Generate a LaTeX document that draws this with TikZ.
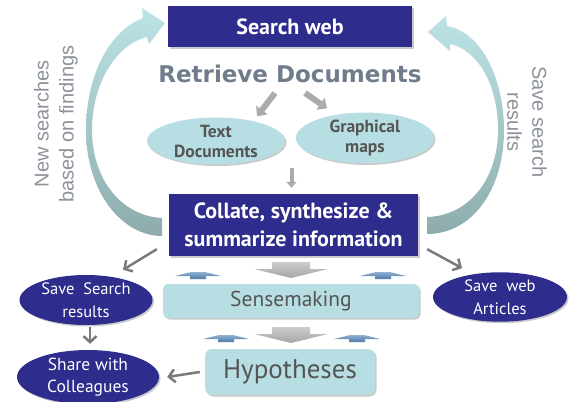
\documentclass[tikz,border=0pt]{standalone}
\usepackage{fontspec}
\setmainfont{PT Sans}
\newfontfamily\arialf{Liberation Sans}
\newfontfamily\retf{DejaVu Sans}
\usetikzlibrary{arrows.meta,shapes.geometric,shadows,calc}
\definecolor{navy}{HTML}{2E2C8C}
\definecolor{lcyan}{HTML}{B7DEE2}
\definecolor{tgray}{HTML}{555555}
\definecolor{rgray}{HTML}{707C8B}
\definecolor{sgray}{HTML}{8C929B}
\definecolor{arrgray}{HTML}{ABABAB}
\definecolor{dgray}{HTML}{7A7A7A}
\definecolor{bblue}{HTML}{4F7BA8}
\definecolor{bblueL}{HTML}{8FB0D0}
\definecolor{tealA}{HTML}{BCE3E6}
\definecolor{tealB}{HTML}{8EACAC}
\tikzset{
  myshadow/.style={drop shadow={shadow xshift=1.5pt,shadow yshift=-1.5pt,opacity=.35,fill=black!60}},
  navybox/.style={fill=navy,text=white,font=\bfseries\fontsize{22}{28}\selectfont,align=center,inner sep=0pt,myshadow},
  cyanbox/.style={fill=lcyan,text=tgray,align=center,inner sep=0pt,myshadow},
  cyanell/.style={ellipse,fill=lcyan,text=tgray,font=\bfseries\fontsize{17.5}{20}\selectfont,align=center,inner sep=0pt,myshadow},
  navyell/.style={ellipse,fill=navy,text=white,font=\fontsize{16.5}{23}\selectfont,align=center,inner sep=0pt,myshadow},
  blockarr/.style={draw=arrgray,line width=6pt,-{Triangle[width=14pt,length=8pt]}},
  smallarr/.style={draw=arrgray,line width=4pt,-{Triangle[width=10pt,length=6pt]}},
  barbarr/.style={draw=dgray,line width=2.5pt,-{Straight Barb[length=6pt,width=13pt]}},
  sidetext/.style={text=sgray,font=\arialf\fontsize{20}{25}\selectfont,align=center,inner sep=0pt},
  bigarrow/.style={top color=tealA,bottom color=tealB},
}
\newcommand\bluearr[2]{%
  \shade[top color=bblueL,bottom color=bblue] (#1-23,#2+4) -- (#1-7,#2) -- (#1+7,#2) -- (#1+23,#2+4) -- (#1+8,#2+4) -- (#1+8,#2+7) -- (#1-8,#2+7) -- (#1-8,#2+4) -- cycle;}
\newcommand\grayfat[2]{%
  \shade[top color=black!20,bottom color=black!35] (#1-19,#2) -- (#1+19,#2) -- (#1+19,#2+7) -- (#1+37,#2+7) -- (#1,#2+16) -- (#1-37,#2+7) -- (#1-19,#2+7) -- cycle;}
\begin{document}
\begin{tikzpicture}[x=1pt,y=-1pt]
\useasboundingbox (0,0) rectangle (571,402);
% big curved arrows
\shade[bigarrow] (162,236) .. controls (122,236) and (86,192) .. (86,130) .. controls (86,75) and (110,30) .. (143,18) -- (142,8) -- (165,23) -- (149,44) -- (147,37) .. controls (115,45) and (92,85) .. (92,130) .. controls (92,180) and (122,216) .. (162,218) -- cycle;
\shade[bigarrow] (427,234) .. controls (472,234) and (504,190) .. (504,130) .. controls (504,80) and (482,32) .. (447,26) -- (446,16) -- (428,32) -- (450,51) -- (450,44) .. controls (478,50) and (498,85) .. (498,130) .. controls (498,180) and (468,216) .. (427,217) -- cycle;
% side texts
\node[sidetext,rotate=90] (lt) at (56,124) {New searches\\based on findings};
\node[sidetext,rotate=-90] (rt) at (527,122) {Save search\\results};
% main boxes
\node[navybox,minimum width=244pt,minimum height=41pt] (sw) at (290,26.5) {Search web};
\node[text=rgray,font=\retf\bfseries\fontsize{23}{28}\selectfont,inner sep=0pt] (ret) at (290,74) {Retrieve Documents};
\node[cyanell,minimum width=138pt,minimum height=47pt] (td) at (216,141) {Text\\Documents};
\node[cyanell,minimum width=138pt,minimum height=48pt] (gm) at (365,138) {Graphical\\maps};
\node[navybox,minimum width=249pt,minimum height=62pt] (col) at (293.5,225) {Collate, synthesize \&\\summarize information};
\node[cyanbox,rounded corners=5pt,minimum width=256pt,minimum height=34pt,font=\fontsize{21.5}{25}\selectfont] (sm) at (291,301) {Sensemaking};
\node[cyanbox,rounded corners=7pt,minimum width=170pt,minimum height=46pt,font=\fontsize{27}{30}\selectfont] (hy) at (290,372) {Hypotheses};
\node[navyell,minimum width=133pt,minimum height=50pt] (ssr) at (86,300) {Save\ \ Search\\results};
\node[navyell,minimum width=134pt,minimum height=47pt] (swa) at (500,297) {Save\ \ web\\Articles};
\node[navyell,minimum width=142pt,minimum height=48pt,font=\fontsize{17.5}{22}\selectfont] (sc) at (88,377) {Share with\\Colleagues};
% connectors
\draw[blockarr] ([shift={(-15,19)}]ret.center) -- ([shift={(41,-1)}]td.north);
\draw[blockarr] ([shift={(15,19)}]ret.center) -- ([shift={(-38,-4)}]gm.north);
\draw[smallarr] ([shift={(-2,-26)}]col.north) -- ([shift={(-2,-6)}]col.north);
\draw[barbarr] ([shift={(-12,-7)}]col.south west) -- ([shift={(37,-5)}]ssr.north);
\draw[barbarr] ([shift={(9,-7)}]col.south east) -- ([shift={(-38,-4)}]swa.north);
\draw[barbarr] ([shift={(4,2)}]ssr.south) -- ([shift={(2,-6)}]sc.north);
\draw[barbarr] ([xshift=-5]hy.west) -- ([xshift=8]sc.east);
% decorative flow arrows
\grayfat{291}{262}
\grayfat{291}{327}
\bluearr{198}{272}
\bluearr{383}{272}
\bluearr{226}{335}
\bluearr{357}{335}
\end{tikzpicture}
\end{document}
